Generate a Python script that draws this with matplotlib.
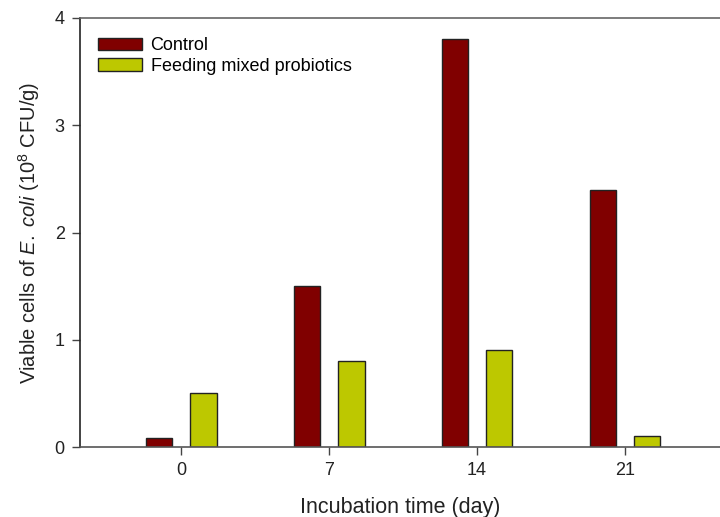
import numpy as np
import matplotlib.pyplot as plt

plt.rcParams['font.family'] = ['Liberation Sans', 'DejaVu Sans']
plt.rcParams['mathtext.fontset'] = 'custom'
plt.rcParams['mathtext.rm'] = 'Liberation Sans'
plt.rcParams['mathtext.it'] = 'Liberation Sans:italic'

# viable E. coli counts (10^8 CFU/g) by incubation day
days = [0, 7, 14, 21]
control = [0.08, 1.5, 3.8, 2.4]
probiotics = [0.5, 0.8, 0.9, 0.1]
labels = ["Control", "Feeding mixed probiotics"]

fig = plt.figure(figsize=(7.2, 5.17), dpi=100)
ax = fig.add_axes([80 / 720, 70 / 517, 640 / 720, 429 / 517])

x = np.array(days)
width = 1.25
offset = 1.05
ax.bar(x - offset, control, width, color="#800000", edgecolor="#222222", linewidth=1, label=labels[0])
ax.bar(x + offset, probiotics, width, color="#bdc800", edgecolor="#222222", linewidth=1, label=labels[1])

ax.set_xlim(-4.8, 25.5)
ax.set_ylim(0, 4)
ax.set_xticks(days)
ax.set_yticks([0, 1, 2, 3, 4])

ax.spines["right"].set_visible(False)
ax.spines["top"].set_color("#666666")
ax.spines["bottom"].set_color("#555555")
ax.spines["left"].set_color("#222222")
for s in ax.spines.values():
    s.set_linewidth(1.2)

ax.tick_params(axis="both", direction="out", length=6, width=1, colors="#444444",
               labelcolor="#222222", labelsize=13, pad=5)

ax.set_xlabel("Incubation time (day)", fontsize=15.5, color="#222222", labelpad=13)
ax.set_ylabel(r"Viable cells of $\it{E.}$ $\it{coli}$ (10$^{8}$ CFU/g)", fontsize=14.5,
              color="#222222", labelpad=9)

ax.legend(loc="upper left", bbox_to_anchor=(0.003, 0.993), frameon=False,
          fontsize=13, handlelength=2.4, handleheight=0.7, handletextpad=0.5,
          labelspacing=0.2)

fig.savefig("out.png", dpi=100)
